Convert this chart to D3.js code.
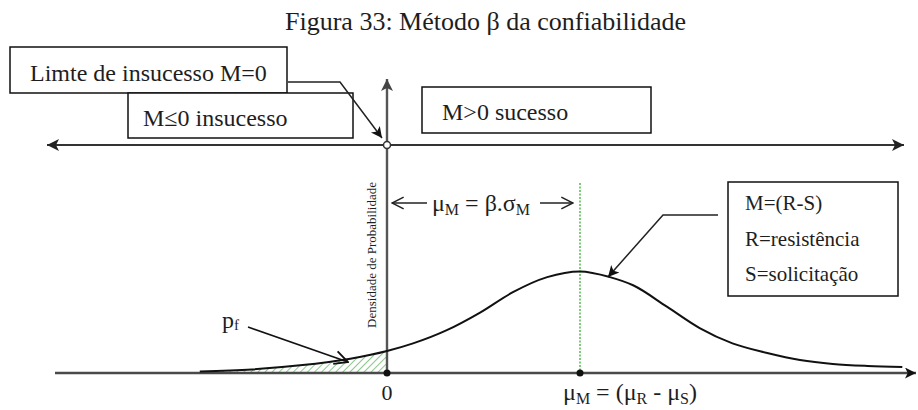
<!DOCTYPE html>
<html><head><meta charset="utf-8">
<script src="https://cdn.jsdelivr.net/npm/d3@7"></script>
<style>
html,body{margin:0;padding:0;background:#fff;}
svg{display:block;}
svg text{font-family:"Liberation Serif","DejaVu Serif",serif;}
</style></head>
<body>
<svg id="chart" width="918" height="410"></svg>
<script>
// ---- data (x in units of mu_M : 0 = limit state, 1 = mean of M; y = relative density) ----
const curveX = [-0.97, -0.70, -0.45, -0.19, 0.00, 0.135, 0.31, 0.48, 0.65, 0.83, 1.00, 1.155, 1.275, 1.45, 1.62, 1.79, 1.97, 2.14, 2.31, 2.49, 2.67];
const curveY = [0.015, 0.035, 0.075, 0.14, 0.215, 0.29, 0.42, 0.59, 0.79, 0.94, 0.995, 0.94, 0.86, 0.65, 0.44, 0.29, 0.196, 0.127, 0.088, 0.069, 0.06];
const tickValues = [0, 1];
const tickLabels = ["0", "μM = (μR - μS)"];
const titleText = "Figura 33: Método β da confiabilidade";
const boxTopLeft = "Limte de insucesso M=0";
const boxFail = "M≤0 insucesso";
const boxSuccess = "M>0 sucesso";
const legendLines = ["M=(R-S)", "R=resistência", "S=solicitação"];
const yAxisLabel = "Densidade de Probabilidade";

const FONT = "Liberation Serif, DejaVu Serif, serif";
const svg = d3.select("#chart").attr("font-family", FONT);
const x = d3.scaleLinear().domain([0, 1]).range([387, 580]);
const y = d3.scaleLinear().domain([0, 1]).range([373, 271]);
const pts = curveX.map((v, i) => [v, curveY[i]]);
const ink = "#1e1e1e";
function txt(sel) { return sel.append("text").attr("font-family", FONT).attr("fill", ink); }

// markers
const defs = svg.append("defs");
function tri(id, w, h, col) {
  defs.append("marker").attr("id", id).attr("viewBox", "0 0 10 10").attr("refX", 10).attr("refY", 5)
    .attr("markerWidth", w).attr("markerHeight", h).attr("markerUnits", "userSpaceOnUse")
    .attr("orient", "auto-start-reverse")
    .append("path").attr("d", "M0,0 L10,5 L0,10 L2.5,5 Z").attr("fill", col);
}
function chev(id, w, h, col, sw) {
  defs.append("marker").attr("id", id).attr("viewBox", "-1 -1 12 12").attr("refX", 10).attr("refY", 5)
    .attr("markerWidth", w).attr("markerHeight", h).attr("markerUnits", "userSpaceOnUse")
    .attr("orient", "auto-start-reverse")
    .append("path").attr("d", "M0,0 L10,5 L0,10").attr("fill", "none").attr("stroke", col).attr("stroke-width", sw);
}
tri("triA", 14, 12, "#222");
tri("triB", 14, 11, "#111");
chev("chevA", 14, 18, "#222", 1.3);
chev("chevB", 16, 16, "#111", 1.4);
tri("triUp", 12, 14, "#444");

const pat = defs.append("pattern").attr("id", "hatch").attr("patternUnits", "userSpaceOnUse")
  .attr("width", 5).attr("height", 5).attr("patternTransform", "rotate(45)");
pat.append("line").attr("x1", 0).attr("y1", 0).attr("x2", 0).attr("y2", 5)
  .attr("stroke", "#8cc98c").attr("stroke-width", 2);

defs.append("clipPath").attr("id", "leftClip").append("rect")
  .attr("x", 0).attr("y", 0).attr("width", x(0)).attr("height", 410);

// title
txt(svg).attr("x", 285).attr("y", 30).attr("font-size", 26).text(titleText);

// hatched failure area
const area = d3.area().x(d => x(d[0])).y0(y(0)).y1(d => y(d[1])).curve(d3.curveMonotoneX);
svg.append("path").datum(pts).attr("d", area).attr("fill", "url(#hatch)").attr("clip-path", "url(#leftClip)");

// bottom axis
svg.append("line").attr("x1", 55).attr("x2", 916).attr("y1", y(0)).attr("y2", y(0))
  .attr("stroke", "#4a4a4a").attr("stroke-width", 2.4).attr("marker-end", "url(#triB)");

// vertical axis
svg.append("line").attr("x1", x(0)).attr("x2", x(0)).attr("y1", y(0)).attr("y2", 79)
  .attr("stroke", "#555").attr("stroke-width", 2.4).attr("marker-end", "url(#triUp)");

// top M axis
svg.append("line").attr("x1", 47).attr("x2", 904).attr("y1", 145).attr("y2", 145)
  .attr("stroke", "#333").attr("stroke-width", 2.2)
  .attr("marker-start", "url(#triA)").attr("marker-end", "url(#triA)");
svg.append("circle").attr("cx", x(0)).attr("cy", 145).attr("r", 3.5)
  .attr("fill", "#fff").attr("stroke", "#333").attr("stroke-width", 1.5);

// green dotted mean line
svg.append("line").attr("x1", x(1)).attr("x2", x(1)).attr("y1", 183).attr("y2", y(0))
  .attr("stroke", "#5cbf5c").attr("stroke-width", 1.6).attr("stroke-dasharray", "2,1.5");

// density curve
const line = d3.line().x(d => x(d[0])).y(d => y(d[1])).curve(d3.curveMonotoneX);
svg.append("path").datum(pts).attr("d", line).attr("fill", "none")
  .attr("stroke", "#111").attr("stroke-width", 2);

// tick dots and labels
svg.selectAll("circle.tick").data(tickValues).enter().append("circle").attr("class", "tick")
  .attr("cx", d => x(d)).attr("cy", y(0)).attr("r", 3.5).attr("fill", "#111");

txt(svg).attr("x", x(tickValues[0])).attr("y", 400).attr("text-anchor", "middle")
  .attr("font-size", 22).text(tickLabels[0]);
const t2 = txt(svg).attr("x", 563).attr("y", 400).attr("font-size", 24);
t2.append("tspan").text("μ");
t2.append("tspan").attr("font-size", 16).attr("dy", 4).text("M");
t2.append("tspan").attr("dy", -4).text(" = (μ");
t2.append("tspan").attr("font-size", 16).attr("dy", 4).text("R");
t2.append("tspan").attr("dy", -4).text(" - μ");
t2.append("tspan").attr("font-size", 16).attr("dy", 4).text("S");
t2.append("tspan").attr("dy", -4).text(")");

// beta annotation
const bt = txt(svg).attr("x", 481).attr("y", 211).attr("text-anchor", "middle").attr("font-size", 24);
bt.append("tspan").text("μ");
bt.append("tspan").attr("font-size", 16).attr("dy", 4).text("M");
bt.append("tspan").attr("dy", -4).text(" = β.σ");
bt.append("tspan").attr("font-size", 16).attr("dy", 4).text("M");
svg.append("line").attr("x1", 427).attr("x2", 392).attr("y1", 203).attr("y2", 203)
  .attr("stroke", "#222").attr("stroke-width", 1.4).attr("marker-end", "url(#chevA)");
svg.append("line").attr("x1", 540).attr("x2", 573).attr("y1", 203).attr("y2", 203)
  .attr("stroke", "#222").attr("stroke-width", 1.4).attr("marker-end", "url(#chevA)");

// y label
txt(svg).attr("transform", "translate(376,255) rotate(-90)").attr("text-anchor", "middle")
  .attr("font-size", 13).text(yAxisLabel);

// pf
const pf = txt(svg).attr("x", 222).attr("y", 328).attr("font-size", 24);
pf.append("tspan").text("p");
pf.append("tspan").attr("font-size", 15).attr("dy", 2).text("f");
svg.append("line").attr("x1", 248).attr("y1", 327).attr("x2", 348).attr("y2", 362)
  .attr("stroke", "#111").attr("stroke-width", 1.6).attr("marker-end", "url(#chevB)");

// boxes
function box(bx, by, bw, bh) {
  svg.append("rect").attr("x", bx).attr("y", by).attr("width", bw).attr("height", bh)
    .attr("fill", "#fff").attr("stroke", "#111").attr("stroke-width", 1.5);
}
box(10, 47, 277, 46);
txt(svg).attr("x", 30).attr("y", 81).attr("font-size", 24).text(boxTopLeft);
box(128, 93, 225, 45);
txt(svg).attr("x", 143).attr("y", 126).attr("font-size", 24).text(boxFail);
box(422, 87, 229, 46);
txt(svg).attr("x", 442).attr("y", 120).attr("font-size", 24).text(boxSuccess);
box(728, 182, 170, 114);
legendLines.forEach((d, i) => {
  txt(svg).attr("x", 745).attr("y", 210 + i * 35.5).attr("font-size", 21).text(d);
});

// connectors
svg.append("path").attr("d", "M288,82 L340,82 L382,138").attr("fill", "none")
  .attr("stroke", "#222").attr("stroke-width", 1.5).attr("marker-end", "url(#triB)");
svg.append("path").attr("d", "M718,215 L663,215 L608,277").attr("fill", "none")
  .attr("stroke", "#222").attr("stroke-width", 1.5).attr("marker-end", "url(#triB)");
</script>
</body></html>
